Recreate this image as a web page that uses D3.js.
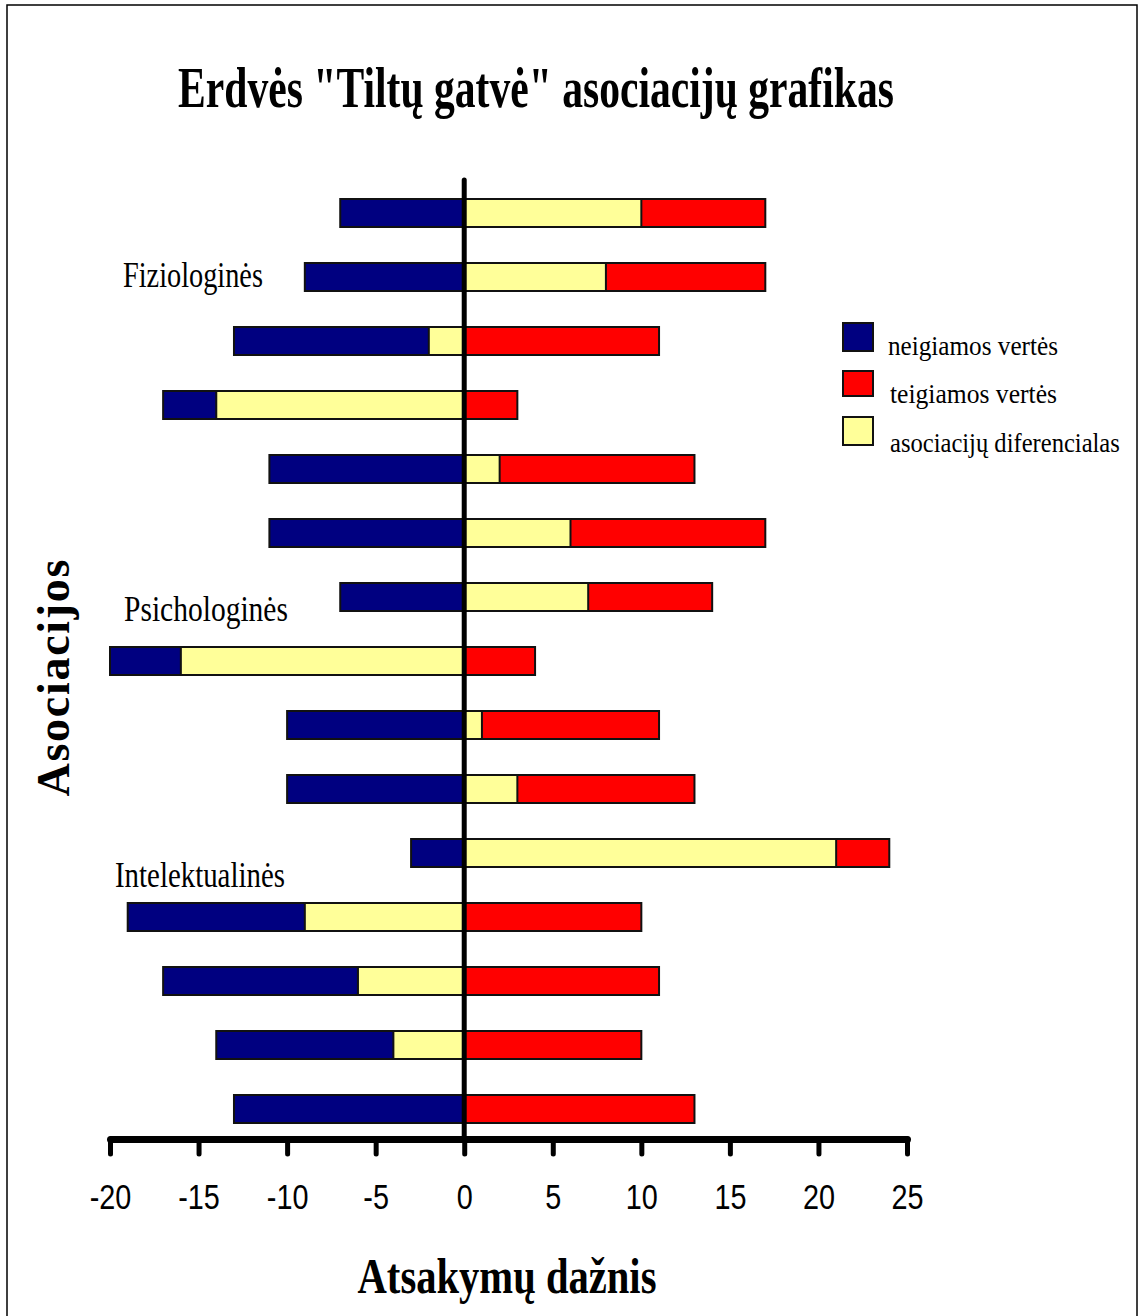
<!DOCTYPE html>
<html>
<head>
<meta charset="utf-8">
<script src="https://cdn.jsdelivr.net/npm/d3@7"></script>
<style>
  html, body { margin: 0; padding: 0; background: #fff; }
  svg { display: block; }
</style>
</head>
<body>
<div id="chart"></div>
<script>
// ---- data ----
const categories = ["1","2","3","4","5","6","7","8","9","10","11","12","13","14","15"];
const negatives   = [-7, -9, -13, -17, -11, -11, -7, -20, -10, -10, -3, -19, -17, -14, -13];
const positives   = [17, 17, 11, 3, 13, 17, 14, 4, 11, 13, 24, 10, 11, 10, 13];
const differential = [10, 8, -2, -14, 2, 6, 7, -16, 1, 3, 21, -9, -6, -4, 0];
const tickValues  = [-20, -15, -10, -5, 0, 5, 10, 15, 20, 25];
const tickLabels  = ["-20", "-15", "-10", "-5", "0", "5", "10", "15", "20", "25"];
const seriesNames = ["neigiamos vertės", "teigiamos vertės", "asociacijų diferencialas"];
const groupLabels = ["Fiziologinės", "Psichologinės", "Intelektualinės"];
const titleText = "Erdvės \"Tiltų gatvė\" asociacijų grafikas";
const xTitle = "Atsakymų dažnis";
const yTitle = "Asociacijos";

// ---- layout ----
const W = 1143, H = 1316;
const colors = { neg: "#000080", pos: "#FF0000", diff: "#FFFF99" };
const serif = "'Liberation Serif', 'Times New Roman', serif";
const svg = d3.select("#chart").append("svg").attr("width", W).attr("height", H);

svg.append("rect").attr("x", 0).attr("y", 0).attr("width", W).attr("height", H).attr("fill", "#fff");
svg.append("rect").attr("x", 7).attr("y", 5).attr("width", 1130).attr("height", 1330)
  .attr("fill", "none").attr("stroke", "#000").attr("stroke-width", 1.5);

const x = d3.scaleLinear().domain([-20, 25]).range([110, 907]);
const y = d3.scaleBand().domain(categories).range([181, 1141]).paddingInner(0.5625).paddingOuter(0.28125);
const bw = y.bandwidth();

const rows = categories.map((c, i) => ({ c, n: negatives[i], p: positives[i], d: differential[i] }));

function bar(g, key, color) {
  g.selectAll(null).data(rows.filter(r => r[key] !== 0)).enter().append("rect")
    .attr("x", r => x(Math.min(0, r[key])))
    .attr("y", r => y(r.c))
    .attr("width", r => Math.abs(x(r[key]) - x(0)))
    .attr("height", bw)
    .attr("fill", color)
    .attr("stroke", "#111")
    .attr("stroke-width", 2);
}
const gb = svg.append("g");
bar(gb, "n", colors.neg);
bar(gb, "p", colors.pos);
bar(gb, "d", colors.diff);

// zero line
svg.append("line").attr("x1", x(0)).attr("x2", x(0)).attr("y1", 180).attr("y2", 1138)
  .attr("stroke", "#000").attr("stroke-width", 5).attr("stroke-linecap", "round");

// x axis
const ax = svg.append("g").attr("transform", "translate(0,1139)")
  .call(d3.axisBottom(x).tickValues(tickValues).tickFormat((d, i) => tickLabels[i])
    .tickSize(15).tickSizeOuter(0).tickPadding(29));
ax.select(".domain").attr("stroke", "#000").attr("stroke-width", 7).attr("stroke-linecap", "round");
ax.selectAll(".tick line").attr("stroke", "#000").attr("stroke-width", 5).attr("stroke-linecap", "round");
ax.selectAll(".tick text").attr("fill", "#000")
  .style("font-family", "'Liberation Sans', Arial, sans-serif").style("font-size", "36px")
  .attr("transform", "scale(0.8,1)");

// horizontally condensed text: fit to a target width via scale transform
function squeezed(txt, px, py, width, size, bold, anchor) {
  const t = svg.append("text").attr("x", 0).attr("y", 0)
    .attr("text-anchor", anchor || "start")
    .style("font-family", serif).style("font-size", size + "px")
    .style("font-weight", bold ? "bold" : "normal").text(txt);
  const natural = t.node().getComputedTextLength();
  const s = width / natural;
  t.attr("transform", `translate(${px},${py}) scale(${s},1)`);
  return t;
}

// title
squeezed(titleText, 536, 107, 716, 57, true, "middle");
// x title
squeezed(xTitle, 507, 1293, 299, 50, true, "middle");

// y title
svg.append("text").attr("transform", "translate(69,678) rotate(-90)").attr("text-anchor", "middle")
  .attr("textLength", 237).attr("lengthAdjust", "spacing")
  .style("font-family", serif).style("font-weight", "bold")
  .style("font-size", "46px").text(yTitle);

// group labels
const groupPos = [[123, 287, 140], [124, 621, 164], [115, 887, 170]];
groupLabels.forEach((g, i) => squeezed(g, groupPos[i][0], groupPos[i][1], groupPos[i][2], 36, false));

// legend
const legColors = [colors.neg, colors.pos, colors.diff];
const legY = [323, 371, 417];
const legTextY = [355, 403, 452];
const legTextX = [888, 890, 890];
const legTextLen = [170, 167, 230];
const lg = svg.append("g");
lg.selectAll("rect").data(seriesNames).enter().append("rect")
  .attr("x", 843).attr("y", (d, i) => legY[i]).attr("width", 30).attr("height", (d, i) => i === 1 ? 25 : 28)
  .attr("fill", (d, i) => legColors[i]).attr("stroke", "#111").attr("stroke-width", 2);
seriesNames.forEach((s, i) => squeezed(s, legTextX[i], legTextY[i], legTextLen[i], 28, false));
</script>
</body>
</html>
